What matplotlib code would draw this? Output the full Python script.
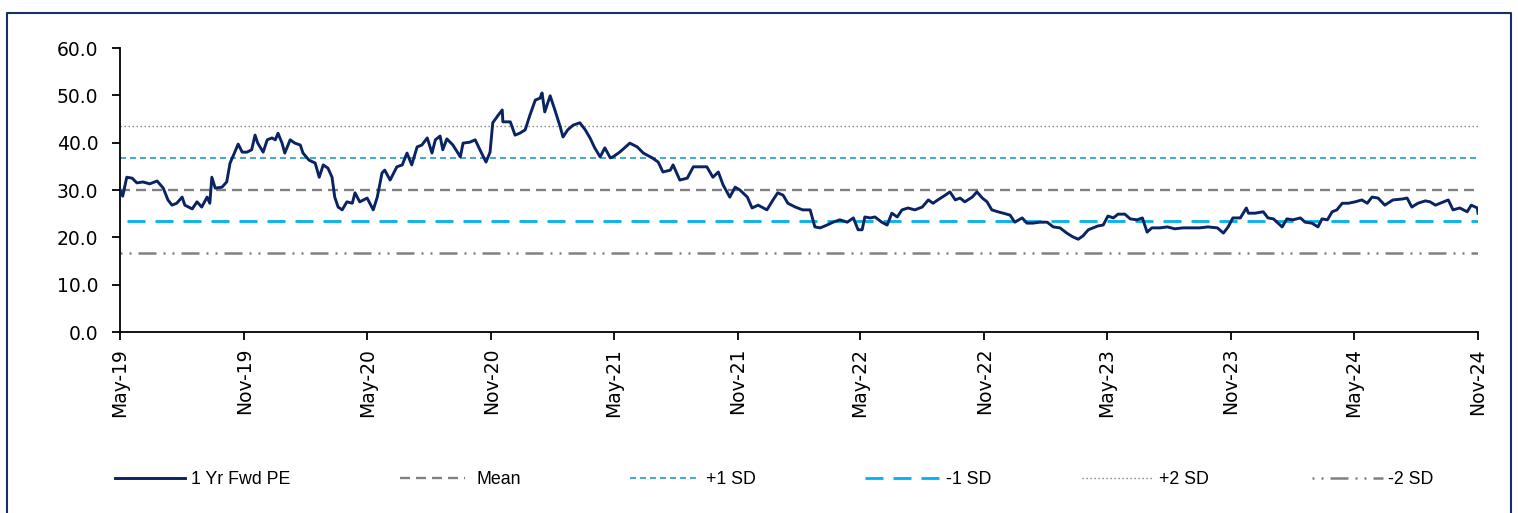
import numpy as np
import pandas as pd
import matplotlib
matplotlib.use("Agg")
import matplotlib.pyplot as plt
import matplotlib.dates as mdates
from matplotlib.lines import Line2D
from matplotlib import font_manager

# 1 Yr Fwd PE
dates = [
    "2019-05-01", "2019-05-05", "2019-05-11", "2019-05-19", "2019-05-26", "2019-06-04", "2019-06-14", "2019-06-25",
    "2019-07-04", "2019-07-11", "2019-07-17", "2019-07-24", "2019-08-01", "2019-08-05", "2019-08-16", "2019-08-23",
    "2019-08-30", "2019-09-07", "2019-09-11", "2019-09-14", "2019-09-19", "2019-09-29", "2019-10-06", "2019-10-11",
    "2019-10-15", "2019-10-23", "2019-10-29", "2019-11-05", "2019-11-12", "2019-11-17", "2019-11-21", "2019-11-29",
    "2019-12-05", "2019-12-12", "2019-12-17", "2019-12-21", "2019-12-27", "2019-12-31",
    "2020-01-08", "2020-01-15", "2020-01-23", "2020-01-27", "2020-02-05", "2020-02-14", "2020-02-20", "2020-02-26",
    "2020-03-04", "2020-03-10", "2020-03-14", "2020-03-19", "2020-03-25", "2020-04-01", "2020-04-09", "2020-04-13",
    "2020-04-20", "2020-05-01", "2020-05-10", "2020-05-16", "2020-05-23", "2020-05-27", "2020-06-04", "2020-06-14",
    "2020-06-22", "2020-06-29", "2020-07-06", "2020-07-14", "2020-07-21", "2020-07-29", "2020-08-05", "2020-08-10",
    "2020-08-17", "2020-08-21", "2020-08-27", "2020-09-05", "2020-09-16", "2020-09-20", "2020-09-30", "2020-10-08",
    "2020-10-15", "2020-10-24", "2020-10-30", "2020-11-03", "2020-11-11", "2020-11-17", "2020-11-18", "2020-11-29",
    "2020-12-06", "2020-12-13", "2020-12-21", "2020-12-28",
    "2021-01-05", "2021-01-12", "2021-01-15", "2021-01-19", "2021-01-27", "2021-02-03", "2021-02-11", "2021-02-15",
    "2021-02-22", "2021-03-02", "2021-03-12", "2021-03-20", "2021-03-27", "2021-04-03", "2021-04-11", "2021-04-18",
    "2021-04-26", "2021-04-30", "2021-05-10", "2021-05-25", "2021-06-05", "2021-06-14", "2021-06-27", "2021-07-06",
    "2021-07-13", "2021-07-24", "2021-07-28", "2021-08-07", "2021-08-18", "2021-08-27", "2021-09-06", "2021-09-16",
    "2021-09-25", "2021-10-03", "2021-10-10", "2021-10-20", "2021-10-28", "2021-11-04", "2021-11-15", "2021-11-22",
    "2021-12-01", "2021-12-14", "2021-12-23", "2021-12-30",
    "2022-01-07", "2022-01-14", "2022-01-25", "2022-02-05", "2022-02-16", "2022-02-23", "2022-03-03", "2022-03-13",
    "2022-03-22", "2022-04-01", "2022-04-12", "2022-04-21", "2022-04-28", "2022-05-04", "2022-05-08", "2022-05-16",
    "2022-05-23", "2022-06-02", "2022-06-10", "2022-06-17", "2022-06-25", "2022-07-02", "2022-07-11", "2022-07-21",
    "2022-08-01", "2022-08-10", "2022-08-17", "2022-08-24", "2022-09-04", "2022-09-11", "2022-09-19", "2022-09-26",
    "2022-10-03", "2022-10-14", "2022-10-21", "2022-10-29", "2022-11-05", "2022-11-12", "2022-11-21", "2022-11-29",
    "2022-12-09", "2022-12-16", "2022-12-27",
    "2023-01-03", "2023-01-12", "2023-01-22", "2023-02-02", "2023-02-11", "2023-02-21", "2023-03-03", "2023-03-12",
    "2023-03-20", "2023-03-27", "2023-04-04", "2023-04-11", "2023-04-18", "2023-04-26", "2023-05-03", "2023-05-11",
    "2023-05-18", "2023-05-28", "2023-06-05", "2023-06-15", "2023-06-23", "2023-06-30", "2023-07-07", "2023-07-19",
    "2023-07-30", "2023-08-10", "2023-08-22", "2023-09-05", "2023-09-16", "2023-09-28", "2023-10-12", "2023-10-21",
    "2023-10-28", "2023-11-04", "2023-11-15", "2023-11-24", "2023-11-27", "2023-12-07", "2023-12-19", "2023-12-26",
    "2024-01-03", "2024-01-16", "2024-01-23", "2024-02-01", "2024-02-12", "2024-02-19", "2024-02-29", "2024-03-09",
    "2024-03-15", "2024-03-23", "2024-03-30", "2024-04-06", "2024-04-14", "2024-04-23", "2024-05-03", "2024-05-13",
    "2024-05-21", "2024-05-28", "2024-06-06", "2024-06-16", "2024-06-28", "2024-07-12", "2024-07-19", "2024-07-26",
    "2024-08-04", "2024-08-15", "2024-08-22", "2024-08-30", "2024-09-06", "2024-09-18", "2024-09-25", "2024-10-05",
    "2024-10-16", "2024-10-22", "2024-10-31", "2024-11-01",
]
pe = [
    30.0, 28.7, 32.7, 32.5, 31.5, 31.7, 31.3, 31.9,
    30.4, 27.9, 26.8, 27.2, 28.5, 26.8, 26.0, 27.5,
    26.4, 28.5, 27.2, 32.7, 30.4, 30.6, 31.7, 35.7,
    37.0, 39.7, 38.0, 38.0, 38.5, 41.6, 39.9, 38.0,
    40.6, 41.0, 40.6, 42.0, 39.9, 37.8,
    40.6, 39.9, 39.5, 37.8, 36.3, 35.7, 32.7, 35.3,
    34.6, 32.7, 28.5, 26.4, 25.8, 27.5, 27.2, 29.4,
    27.5, 28.3, 25.8, 28.5, 33.6, 34.2, 32.1, 34.9,
    35.3, 37.8, 35.3, 39.1, 39.5, 41.0, 37.8, 40.6,
    41.4, 38.5, 40.8, 39.5, 37.0, 39.9, 40.1, 40.6,
    38.5, 35.9, 38.0, 44.2, 45.8, 46.9, 44.4, 44.4,
    41.6, 42.0, 42.7, 45.8,
    49.0, 49.4, 50.5, 46.5, 49.9, 46.9, 43.3, 41.2,
    42.7, 43.7, 44.2, 42.7, 41.0, 38.9, 37.0, 38.9,
    36.8, 37.0, 38.0, 39.9, 39.1, 37.8, 36.8, 35.9,
    33.8, 34.2, 35.3, 32.1, 32.5, 34.9, 34.9, 34.9,
    32.7, 33.8, 31.1, 28.5, 30.6, 30.0, 28.5, 26.2,
    26.8, 25.8, 27.9, 29.4,
    28.9, 27.2, 26.4, 25.8, 25.8, 22.2, 22.0, 22.6,
    23.2, 23.7, 23.2, 24.1, 21.6, 21.6, 24.3, 24.1,
    24.3, 23.2, 22.6, 25.1, 24.3, 25.8, 26.2, 25.8,
    26.4, 27.9, 27.2, 27.9, 28.9, 29.6, 27.9, 28.3,
    27.5, 28.5, 29.6, 28.3, 27.5, 25.8, 25.4, 25.1,
    24.7, 23.2, 24.1,
    23.0, 23.0, 23.2, 23.2, 22.2, 22.0, 20.9, 20.1,
    19.6, 20.3, 21.6, 22.0, 22.4, 22.6, 24.5, 24.1,
    24.9, 24.9, 23.9, 23.7, 24.1, 21.1, 22.0, 22.0,
    22.2, 21.8, 22.0, 22.0, 22.0, 22.2, 22.0, 20.9,
    22.2, 24.1, 24.1, 26.2, 25.1, 25.1, 25.4, 24.1,
    23.9, 22.2, 23.9, 23.7, 24.1, 23.2, 23.0, 22.2,
    23.9, 23.7, 25.4, 25.8, 27.2, 27.2, 27.5, 27.9,
    27.2, 28.5, 28.3, 26.8, 27.9, 28.1, 28.3, 26.4,
    27.2, 27.7, 27.5, 26.8, 27.2, 27.9, 25.8, 26.2,
    25.4, 26.8, 26.2, 25.1,
]

mean_pe = 30.1
plus_1sd = 36.85
minus_1sd = 23.35
plus_2sd = 43.6
minus_2sd = 16.6

x = pd.to_datetime(dates)

W, H = 1518, 513
plt.rcParams['lines.scale_dashes'] = False
fig = plt.figure(figsize=(W / 100, H / 100), dpi=100)

# outer frame
frame_col = '#13306b'
fig.add_artist(Line2D([7 / W, 7 / W, 1511 / W, 1511 / W], [0, 1 - 13 / H, 1 - 13 / H, 0],
                      transform=fig.transFigure, color=frame_col, lw=1.5))

ax = fig.add_axes([120 / W, 1 - 332 / H, (1478 - 120) / W, (332 - 48) / H])

px = 0.72  # points per pixel
pe_line, = ax.plot(x, pe, color='#0a2463', lw=2.1, label='1 Yr Fwd PE', zorder=5)
mean_line = ax.axhline(mean_pe, color='#808080', lw=1.7, dashes=(10 * px, 6 * px), label='Mean')
p1_line = ax.axhline(plus_1sd, color='#4bacc6', lw=1.5, dashes=(6 * px, 4 * px), label='+1 SD')
m1_line = ax.axhline(minus_1sd, color='#00b0f0', lw=2.0, linestyle=(21 * px, (18 * px, 10 * px)), label='-1 SD')
p2_line = ax.axhline(plus_2sd, color='#808080', lw=1.0, dashes=(1.4 * px, 2.6 * px), label='+2 SD')
m2_line = ax.axhline(minus_2sd, color='#808080', lw=1.8,
                     linestyle=(25 * px, (18 * px, 7 * px, 2 * px, 7 * px, 2 * px, 7 * px)), label='-2 SD')

ax.set_ylim(0, 60)
ax.set_yticks(np.arange(0, 61, 10))
ax.yaxis.set_major_formatter(matplotlib.ticker.FormatStrFormatter('%.1f'))
ax.set_xlim(pd.Timestamp('2019-05-01'), pd.Timestamp('2024-11-01'))
ax.xaxis.set_major_locator(mdates.MonthLocator(bymonth=[5, 11]))
ax.xaxis.set_major_formatter(mdates.DateFormatter('%b-%y'))

for s in ['top', 'right']:
    ax.spines[s].set_visible(False)
for s in ['left', 'bottom']:
    ax.spines[s].set_linewidth(1.3)
ax.tick_params(axis='both', direction='out', length=5.5, width=1.3, labelsize=13.5, colors='black')
ax.tick_params(axis='y', pad=10)
ax.tick_params(axis='x', pad=6, labelrotation=90)

# legend, one entry at a time so the spacing matches
names = {f.name for f in font_manager.fontManager.ttflist}
leg_font = 'Liberation Sans Narrow' if 'Liberation Sans Narrow' in names else 'Liberation Sans'
leg_size = 14 if leg_font == 'Liberation Sans Narrow' else 12.8
handles = [pe_line, mean_line, p1_line, m1_line, p2_line, m2_line]
starts = [115, 400, 630, 858, 1082, 1312]
lengths = [70, 65, 70, 82, 70, 71]
gaps = [6, 12, 6, 6, 7, 5]
for h, xs, ln, gp in zip(handles, starts, lengths, gaps):
    em = leg_size / 0.72
    fig.legend(handles=[h], loc='center left', bbox_to_anchor=(xs / W, 1 - 480 / H),
               frameon=False, borderpad=0, borderaxespad=0,
               handlelength=ln / em, handletextpad=gp / em,
               prop={'family': leg_font, 'size': leg_size})

fig.savefig('out.png', dpi=100)
